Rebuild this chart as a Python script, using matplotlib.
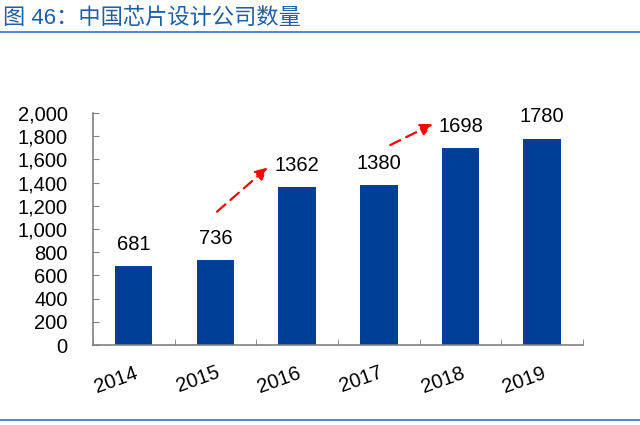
import numpy as np
import matplotlib.pyplot as plt

plt.rcParams['font.family'] = ['Liberation Sans', 'Noto Sans CJK SC', 'DejaVu Sans']

years = ['2014', '2015', '2016', '2017', '2018', '2019']
counts = [681, 736, 1362, 1380, 1698, 1780]
yticks = np.arange(0, 2001, 200)

fig = plt.figure(figsize=(6.4, 4.25), dpi=100)
ax = fig.add_axes([0.145, 0.188, 0.766, 0.546])

x = np.arange(len(years))
ax.bar(x, counts, width=0.46, color='#003f98', zorder=2)
for i, v in enumerate(counts):
    ax.text(i, v + 105, str(v), ha='center', va='bottom', fontsize=14.5)

ax.set_xlim(-0.5, len(years) - 0.5)
ax.set_ylim(0, 2000)
ax.set_yticks(yticks)
ax.set_yticklabels([f'{v:,}' for v in yticks], fontsize=14.5)
ax.set_xticks(x)
ax.set_xticklabels(years, fontsize=14.5, rotation=20, ha='right', va='top',
                   rotation_mode='anchor')
ax.tick_params(axis='x', length=0, pad=13)
ax.set_xticks(np.arange(-0.5, len(years)), minor=True)
ax.tick_params(axis='x', which='minor', direction='in', length=4, color='#808080')
ax.tick_params(axis='y', direction='in', length=4, color='#808080', pad=18)

for s in ['top', 'right']:
    ax.spines[s].set_visible(False)
for s in ['left', 'bottom']:
    ax.spines[s].set_color('#808080')
    ax.spines[s].set_linewidth(1.2)

# red dashed growth arrows
arrow = dict(arrowstyle='-|>', color='#ff0000', lw=1.6, linestyle=(0, (5, 3)),
             mutation_scale=18, shrinkA=0, shrinkB=0)
ax.annotate('', xy=(1.64, 1530), xytext=(1.02, 1150), arrowprops=arrow)
ax.annotate('', xy=(3.66, 1905), xytext=(3.14, 1724), arrowprops=arrow,
            annotation_clip=False)

fig.text(0.005, 0.955, '图 46：中国芯片设计公司数量', fontsize=16, color='#1f5fa8',
         va='center', ha='left')
fig.add_artist(plt.Line2D([0, 1], [0.925, 0.925], color='#2e75c6', lw=1.2))
fig.add_artist(plt.Line2D([0, 1], [0.012, 0.012], color='#2e75c6', lw=1.2))

fig.savefig('out.png', dpi=100)
